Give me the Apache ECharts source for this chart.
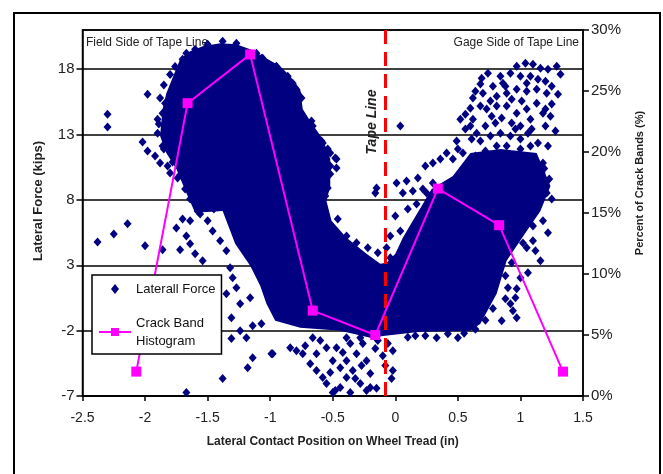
<!DOCTYPE html>
<html>
<head>
<meta charset="utf-8">
<script src="https://cdn.jsdelivr.net/npm/echarts@6/dist/echarts.min.js"></script>
<style>
html,body{margin:0;padding:0;background:#fff}
#main{width:663px;height:474px}
</style>
</head>
<body>
<div id="main"></div>
<script>
// crack band histogram (right axis, %)
const crackX = [-2.07, -1.66, -1.16, -0.66, -0.16, 0.34, 0.83, 1.34];
const crackPct = [2, 24, 28, 7, 5, 17, 14, 2];
const tapeLineX = -0.08;

// outline of the solid part of the lateral force cloud (in, kips)
const denseCore = [
  [-1.72,18.76],[-1.64,19.37],[-1.54,19.76],[-1.40,19.98],[-1.27,19.91],[-1.16,19.53],
  [-1.06,18.99],[-0.92,18.23],[-0.84,17.47],[-0.76,16.47],[-0.74,14.95],[-0.67,13.88],
  [-0.58,12.66],[-0.52,11.13],[-0.52,9.07],[-0.55,7.92],[-0.51,6.40],[-0.39,5.10],
  [-0.23,3.88],[-0.12,3.11],[-0.07,3.19],[0.00,3.88],[0.06,5.10],[0.14,6.40],
  [0.22,7.69],[0.29,8.84],[0.46,9.83],[0.60,11.59],[0.84,11.89],[1.13,11.59],
  [1.24,9.07],[1.16,7.16],[1.05,5.63],[0.89,3.34],[0.81,0.82],[0.68,-1.47],
  [0.60,-2.01],[0.20,-2.08],[-0.08,-2.39],[-0.20,-2.54],[-0.44,-2.01],[-0.76,-1.77],
  [-0.96,-1.24],[-1.03,0.06],[-1.08,1.44],[-1.16,2.96],[-1.28,4.64],[-1.38,7.16],
  [-1.60,7.01],[-1.67,8.53],[-1.75,10.37],[-1.83,11.59],[-1.88,12.89],[-1.86,14.95],
  [-1.83,16.17]
];

// single readings outside / along the edge of the solid cloud
const forcePoints = [
  // far field side
  [-2.30,14.56],[-2.30,13.57],[-2.38,4.79],[-2.25,5.40],[-2.14,6.17],[-2.00,4.49],
  [-1.98,16.09],[-1.88,15.79],[-2.02,12.43],[-1.98,11.74],[-1.92,11.36],[-1.88,10.82],
  [-1.82,10.59],[-1.80,10.06],[-1.74,9.68],[-1.68,8.84],[-1.64,8.08],[-1.58,7.16],
  [-1.70,18.76],[-1.67,19.22],[-1.60,19.53],[-1.50,19.91],[-1.38,20.14],[-1.27,19.98],
  [-1.07,18.84],[-1.11,19.22],[-1.84,15.40],[-1.86,14.64],[-1.90,14.18],[-1.90,13.11],
  [-1.86,12.12],[-1.85,16.80],[-1.80,17.60],[-1.76,18.20],[-1.89,13.80],[-1.85,11.90],
  [-1.78,10.90],[-1.72,9.90],[-1.66,9.20],[-1.55,7.60],[-1.45,7.30],
  [-1.75,5.86],[-1.72,4.18],[-1.67,5.25],[-1.64,4.64],[-1.60,3.88],[-1.54,3.34],
  [-1.86,4.18],[-1.70,6.55],[-1.64,6.40],[-1.56,6.93],[-1.50,6.40],[-1.46,5.63],
  [-1.40,4.87],[-1.35,4.11],[-1.32,2.81],[-1.30,2.05],[-1.27,1.28],[-1.31,-1.01],
  [-1.31,-2.61],[-1.24,-2.00],[-1.19,-2.54],[-1.14,-1.62],[-1.07,-1.47],[-1.14,-4.07],
  [-1.18,-4.83],[-1.38,-5.66],[-0.98,-3.76],[-1.67,-6.73],[-0.95,-0.47],[-1.16,0.52],
  [-1.24,0.06],[-1.35,0.82],
  // right edge of the field side lobe
  [-1.06,18.84],[-0.95,18.23],[-0.86,17.47],[-0.82,16.93],[-0.78,16.17],[-0.75,15.79],
  [-0.67,14.03],[-0.66,13.65],[-0.58,12.35],[-0.52,11.59],[-0.47,11.13],[-0.52,10.59],
  [-0.59,12.50],[-0.54,11.89],[-0.48,11.21],[-0.47,10.44],[-0.52,9.98],[-0.54,8.92],
  [-0.56,8.31],[-0.46,6.55],[-0.39,5.25],[-0.31,4.72],[-0.22,4.34],[-0.14,3.95],
  [-0.07,4.34],[-0.04,3.57],
  // near the tape line
  [0.04,13.65],[-0.15,8.92],[-0.16,8.53],[0.01,9.30],[0.09,9.45],[0.18,9.68],
  [0.24,10.59],[0.06,8.53],[0.14,8.69],[0.22,8.84],[0.00,6.78],[0.10,7.31],
  [0.17,7.69],[0.04,5.63],[-0.04,5.25],
  // below the bottom of the V
  [-0.99,-3.76],[-0.84,-3.30],[-0.79,-3.53],[-0.74,-3.76],[-0.66,-2.54],[-0.60,-2.76],
  [-0.63,-3.76],[-0.68,-4.53],[-0.63,-5.05],[-0.58,-5.59],[-0.55,-6.04],[-0.44,-6.35],
  [-0.39,-5.59],[-0.34,-5.05],[-0.28,-6.04],[-0.44,-4.83],[-0.50,-4.30],[-0.39,-4.30],
  [-0.31,-3.76],[-0.23,-4.30],[-0.20,-5.28],[-0.20,-6.35],[-0.10,-3.92],[-0.02,-5.05],
  [-0.03,-5.66],[-0.02,-3.53],[-0.47,-3.30],[-0.55,-3.30],[-0.36,-2.99],[-0.26,-2.99],
  [-0.39,-2.54],[-0.28,-2.54],[-0.48,-6.58],[-0.36,-6.73],[-0.23,-6.58],[-0.50,-6.73],
  [-0.15,-6.40],[-0.72,-3.15],[-0.42,-3.68],[-0.16,-3.37],[-0.08,-4.67],[-0.32,-5.66],
  [-0.52,-5.21],[-0.27,-4.67],[-0.14,-2.76],[-0.06,-2.99],
  // upper gage side
  [0.69,17.31],[0.74,17.69],[0.84,17.47],[0.92,17.69],[0.97,18.23],[1.04,18.46],
  [1.10,18.38],[1.16,18.08],[1.22,18.00],[1.29,18.23],[1.32,17.62],[1.00,17.47],
  [1.08,17.47],[1.14,17.24],[0.86,16.93],[0.78,16.70],[0.68,16.86],[1.30,16.09],
  [1.21,16.17],[1.25,15.33],[1.18,14.64],[1.20,13.65],[1.24,14.41],[0.62,15.79],
  [0.70,16.17],[0.81,15.94],[0.89,16.17],[0.97,16.47],[1.05,16.32],[1.13,16.47],
  [0.68,15.18],[0.60,15.02],[0.56,14.56],[0.62,14.18],[0.73,14.95],[0.81,15.18],
  [0.89,15.18],[0.97,14.64],[1.05,14.95],[1.13,15.40],[0.77,14.41],[0.85,14.26],
  [0.93,13.88],[1.00,13.65],[1.08,14.18],[0.72,13.65],[0.65,13.11],[0.61,12.66],
  [0.76,12.89],[0.84,13.11],[0.92,12.89],[1.00,12.66],[1.06,13.11],[1.14,12.35],
  [0.81,12.12],[0.89,12.12],[0.49,12.50],[0.41,11.59],[0.36,11.13],[0.30,10.82],
  [0.46,11.13],[0.54,11.59],[1.18,10.82],[1.17,10.06],[1.25,8.08],[1.21,8.53],
  [0.30,9.30],[0.25,8.53],
  [0.64,16.32],[0.76,15.56],[0.93,15.71],[1.01,15.56],[1.20,14.95],[1.09,13.42],
  [0.96,13.42],[0.80,13.88],[0.68,12.50],[0.56,13.42],[0.50,11.89],[1.00,11.89],
  [1.08,12.12],[0.72,11.74],[0.64,11.36],[1.22,12.12],[1.28,13.27],[0.88,16.70],
  [1.05,16.93],[1.20,17.08],[1.25,16.70],[0.60,13.65],[0.52,14.18],
  // right edge and bottom of the gage side lobe
  [1.22,5.48],[1.18,6.40],[1.10,4.87],[1.05,4.34],[1.12,4.11],[1.16,3.34],
  [1.06,2.43],[1.00,2.05],[0.97,1.21],[0.96,0.52],[0.97,-1.01],[0.94,-0.47],
  [0.92,0.06],[0.88,0.44],[0.85,-1.24],[0.90,1.28],[0.24,-2.39],[0.33,-2.54],
  [0.42,-2.23],[0.50,-2.54],[0.10,-2.50],[0.16,-2.40],[0.55,-2.20],[0.64,-1.90],
  [0.72,-1.20],[0.78,-0.30],[1.20,8.60],[1.23,9.60],[1.19,10.40],[1.10,6.00],
  [1.02,4.70],[0.93,3.20],[0.88,2.20]
];

const NAVY = '#000080';
const PINK = '#ff00ff';
const FONT = '"Liberation Sans", Arial, sans-serif';

var chart = echarts.init(document.getElementById('main'));

var option = {
  animation: false,
  backgroundColor: '#fff',
  textStyle: { fontFamily: FONT },
  grid: {
    left: 82.5, right: 80, top: 30, bottom: 78,
    show: true, borderColor: '#000', borderWidth: 1.5
  },
  legend: {
    orient: 'vertical',
    left: 92, top: 275,
    padding: [5, 6, 4, 6],
    itemGap: 16,
    itemWidth: 32, itemHeight: 10,
    backgroundColor: '#fff',
    borderColor: '#000',
    borderWidth: 1.5,
    symbolKeepAspect: true,
    textStyle: { fontFamily: FONT, fontSize: 13, color: '#111', lineHeight: 18 },
    formatter: function (name) {
      return name === 'Crack Band Histogram' ? 'Crack Band\nHistogram' : name;
    },
    data: [
      { name: 'Laterall Force', icon: 'path://M4,0L8,5L4,10L0,5Z' },
      { name: 'Crack Band Histogram' }
    ],
    z: 20
  },
  xAxis: {
    type: 'value',
    min: -2.5, max: 1.5, interval: 0.5,
    name: 'Lateral Contact Position on Wheel Tread (in)',
    nameLocation: 'middle', nameGap: 40,
    nameTextStyle: { fontFamily: FONT, fontSize: 12, fontWeight: 'bold', color: '#222' },
    axisLine: { onZero: false, lineStyle: { color: '#000', width: 1.5 } },
    axisTick: { show: true, length: 5, lineStyle: { color: '#000', width: 1.5 } },
    axisLabel: { fontFamily: FONT, fontSize: 14, color: '#222', margin: 15 },
    splitLine: { show: false }
  },
  yAxis: [
    {
      type: 'value',
      min: -7, max: 21, interval: 5,
      name: 'Lateral Force (kips)',
      nameLocation: 'middle', nameGap: 38,
      nameTextStyle: { fontFamily: FONT, fontSize: 13, fontWeight: 'bold', color: '#222', padding: [0, 0, 0, 24] },
      axisLine: { show: true, onZero: false, lineStyle: { color: '#000', width: 1.5 } },
      axisTick: { show: true, length: 6, lineStyle: { color: '#000', width: 1.5 } },
      axisLabel: { fontFamily: FONT, fontSize: 15, color: '#222', margin: 8, showMaxLabel: false },
      splitLine: { show: true, lineStyle: { color: '#000', width: 1.5 } }
    },
    {
      type: 'value',
      min: 0, max: 30, interval: 5,
      position: 'right',
      name: 'Percent of Crack Bands (%)',
      nameLocation: 'middle', nameGap: 51, nameRotate: 90,
      nameTextStyle: { fontFamily: FONT, fontSize: 11, fontWeight: 'bold', color: '#222', padding: [0, 0, 0, 60] },
      axisLine: { show: true, onZero: false, lineStyle: { color: '#000', width: 1.5 } },
      axisTick: { show: true, length: 6, lineStyle: { color: '#000', width: 1.5 } },
      axisLabel: { fontFamily: FONT, fontSize: 15, color: '#222', margin: 8, formatter: '{value}%' },
      splitLine: { show: false }
    }
  ],
  series: [
    {
      type: 'custom',
      name: 'core',
      silent: true,
      z: 2,
      data: [[0, 0]],
      renderItem: function (params, api) {
        return {
          type: 'polygon',
          shape: { points: denseCore.map(function (p) { return api.coord(p); }) },
          style: { fill: NAVY }
        };
      }
    },
    {
      type: 'scatter',
      name: 'Laterall Force',
      symbol: 'diamond',
      symbolSize: [8, 9],
      itemStyle: { color: NAVY, opacity: 1 },
      z: 3,
      data: forcePoints
    },
    {
      type: 'line',
      name: 'Crack Band Histogram',
      yAxisIndex: 1,
      symbol: 'rect',
      symbolSize: 10,
      lineStyle: { color: PINK, width: 2 },
      itemStyle: { color: PINK },
      z: 6,
      data: crackX.map(function (x, i) { return [x, crackPct[i]]; }),
      markLine: {
        silent: true,
        symbol: ['none', 'none'],
        label: { show: false },
        lineStyle: { color: '#ff0000', width: 3, type: [14, 8] },
        data: [{ xAxis: tapeLineX }]
      }
    }
  ],
  graphic: [
    {
      type: 'rect', silent: true, z: 100,
      shape: { x: 14, y: 13, width: 646, height: 480 },
      style: { fill: 'none', stroke: '#000', lineWidth: 2 }
    },
    {
      type: 'text', left: 86, top: 37, z: 1,
      style: { text: 'Field Side of Tape Line', font: '12px ' + FONT, fill: '#222' }
    },
    {
      type: 'text', right: 84, top: 37, z: 1,
      style: { text: 'Gage Side of Tape Line', font: '12px ' + FONT, fill: '#222' }
    },
    {
      type: 'text', x: 372, y: 122, rotation: Math.PI / 2, z: 1,
      style: { text: 'Tape Line', font: 'italic bold 14px ' + FONT, fill: '#222', align: 'center', verticalAlign: 'middle' }
    }
  ]
};

chart.setOption(option);
</script>
</body>
</html>
